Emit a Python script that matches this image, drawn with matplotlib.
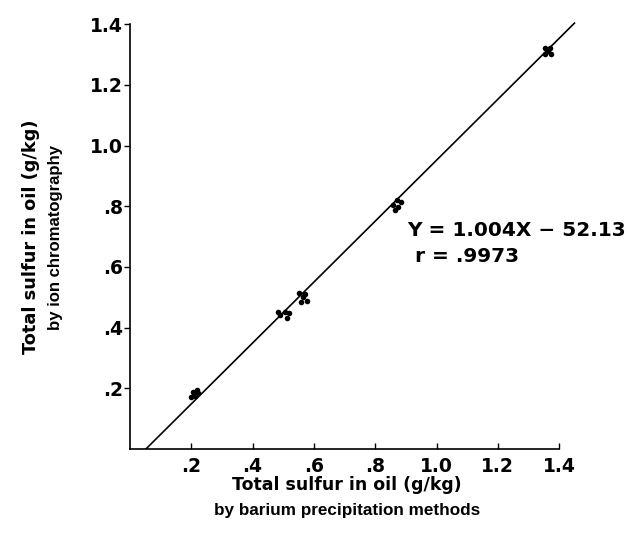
import numpy as np
import matplotlib
matplotlib.use('Agg')
import matplotlib.pyplot as plt

plt.rcParams['font.family'] = ['DejaVu Sans']
plt.rcParams['font.weight'] = 'bold'

# replicate measurements (g/kg): barium precipitation (x) vs ion chromatography (y)
barium = [0.206, 0.219, 0.199, 0.212, 0.222,
          0.483, 0.506, 0.519, 0.512, 0.489,
          0.551, 0.571, 0.577, 0.558, 0.564,
          0.858, 0.871, 0.884, 0.865, 0.874,
          1.354, 1.370, 1.354, 1.374, 1.364]
ion_chrom = [0.188, 0.194, 0.171, 0.175, 0.184,
             0.451, 0.451, 0.448, 0.431, 0.441,
             0.514, 0.511, 0.487, 0.484, 0.501,
             0.804, 0.820, 0.814, 0.787, 0.797,
             1.321, 1.321, 1.301, 1.301, 1.311]

# regression Y = 1.004X - 52.13 (mg/kg)
slope = 1.004
intercept = -0.05213
line_x = [0.052, 1.45]

ticks = [0.2, 0.4, 0.6, 0.8, 1.0, 1.2, 1.4]
tick_labels = ['.2', '.4', '.6', '.8', '1.0', '1.2', '1.4']

W, H = 629, 551
fig = plt.figure(figsize=(W / 100, H / 100), dpi=100)
ax = fig.add_axes([130 / W, 1 - 449 / H, 450.6 / W, 446 / H])

lx = np.array(line_x)
ax.plot(lx, slope * lx + intercept, color='black', lw=1.2)
ax.plot(barium, ion_chrom, 'o', color='black', ms=4, mec='none')

ax.set_xlim(0, 1.47)
ax.set_ylim(0, 1.47)
for s in ['top', 'right']:
    ax.spines[s].set_visible(False)
ax.spines['left'].set_bounds(0, 1.4)
ax.spines['bottom'].set_bounds(0, 1.4)
ax.spines['left'].set_linewidth(1.2)
ax.spines['bottom'].set_linewidth(1.2)

ax.set_xticks(ticks)
ax.set_xticklabels(tick_labels)
ax.set_yticks(ticks)
ax.set_yticklabels(tick_labels)
ax.tick_params(axis='x', direction='in', length=4, width=1, labelsize=13.5, pad=6)
ax.tick_params(axis='y', direction='out', length=4, width=1, labelsize=13.5, pad=1)

# regression text
fig.text(407 / W, 1 - 230 / H, 'Y = 1.004X \u2212 52.13', fontsize=14.5,
         va='center', ha='left')
fig.text(415 / W, 1 - 256 / H, 'r = .9973', fontsize=14.5,
         va='center', ha='left')

# axis titles
fig.text(347 / W, 1 - 485 / H, 'Total sulfur in oil (g/kg)', fontsize=12.5,
         ha='center', va='center')
fig.text(347 / W, 1 - 511 / H, 'by barium precipitation methods', fontsize=12.3,
         family='Liberation Sans', ha='center', va='center')
fig.text(31 / W, 1 - 237 / H, 'Total sulfur in oil (g/kg)', fontsize=12.8,
         ha='center', va='center', rotation=90)
fig.text(56 / W, 1 - 237 / H, 'by ion chromatography', fontsize=12.1,
         family='Liberation Sans', ha='center', va='center', rotation=90)

fig.savefig('out.png', dpi=100)
